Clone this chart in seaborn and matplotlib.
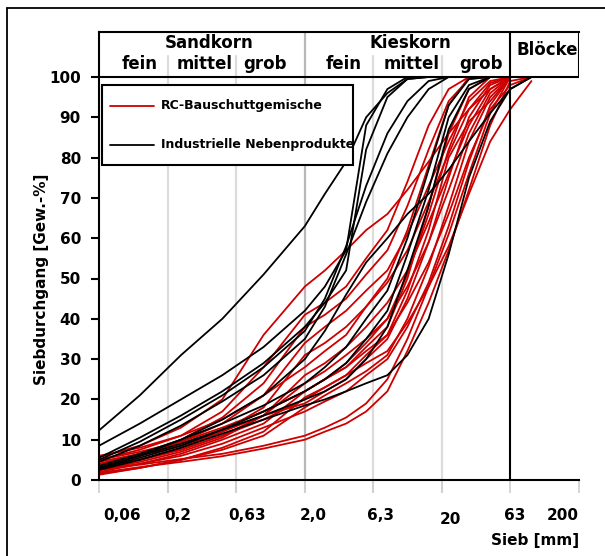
import matplotlib
matplotlib.use("Agg")
import matplotlib.pyplot as plt
import matplotlib.transforms as mtransforms
from matplotlib.lines import Line2D
from matplotlib.patches import Rectangle
from matplotlib.ticker import NullLocator, FixedLocator, NullFormatter
import numpy as np
import pandas as pd
import seaborn as sns

N = None
# sieve sizes [mm]
sieve = [0.063, 0.125, 0.25, 0.5, 1, 2, 2.8, 4, 5.6, 8, 11.2, 16, 22.4, 31.5, 45, 63, 90]

# passing [%] - RC-Bauschuttgemische
rc_curves = [
    [5.7, 8.5, 13, 20, 36, 48, 52, 57, 62, 66, 72, 79, 86, 92, 97, 100, N],
    [2.5, 3.8, 5.2, 6.5, 8.5, 11, 13, 15.5, 19, 25, 35, 48, 61, 76, 91, 100, N],
    [1.8, 3.2, 4.5, 5.9, 7.8, 10, 12, 14, 17, 22, 32, 44, 57, 72, 88, 99, 100],
    [5, 7.5, 11, 17, 28, 41, 44, 48, 55, 62, 74, 88, 97, 100, N, N, N],
    [4, 6.5, 10, 15.5, 24, 38, 41, 45, 51, 57, 68, 82, 94, 99.5, 100, N, N],
    [3.5, 6, 9.5, 14, 21, 34, 38, 42, 47, 52, 61, 73, 84, 94, 99, 100, N],
    [3, 5, 8, 12, 18, 31, 34, 38, 43, 49, 57, 69, 81, 92, 98.5, 100, N],
    [6, 8, 11, 15, 21, 28, 32, 36, 43, 50, 62, 78, 93, 100, N, N, N],
    [2.5, 4.5, 7, 10.5, 16, 26, 29, 33, 38, 44, 52, 64, 76, 88, 97, 100, N],
    [3, 5, 7.5, 11, 16, 24, 27, 31, 35, 40, 48, 59, 72, 86, 96, 100, N],
    [2, 4, 6.5, 10, 14, 22, 25, 28, 32, 36, 44, 54, 66, 80, 92, 98, 100],
    [4.5, 6.5, 9, 12.5, 17, 22, 25, 29, 34, 40, 51, 66, 82, 95, 100, N, N],
    [1.3, 3, 5, 8, 12, 20.5, 23, 26, 29, 32, 39, 48, 58, 71, 84, 92, 99],
    [4, 6, 8.5, 12, 16, 19, 22, 25, 30, 35, 45, 59, 75, 90, 98, 100, N],
    [2.5, 4, 6, 9, 13, 17, 19.5, 22, 26, 30, 38, 49, 63, 79, 93, 100, N],
    [5, 7, 9.5, 13, 17, 22, 25, 28, 33, 38, 50, 68, 86, 97, 100, N, N],
    [3, 5, 7.5, 11, 15, 20, 23, 26, 31, 36, 47, 62, 80, 89, 94, 100, N],
    [1.5, 3, 5, 7.5, 11, 18, 21, 24, 27, 31, 40, 53, 68, 84, 95, 100, N],
]

# passing [%] - Industrielle Nebenprodukte
ind_curves = [
    [12.3, 21, 31, 40, 51, 63, 71, 79, 90, 96, 99.5, 100, N, N, N, N, N],
    [8.5, 14, 20, 26, 33, 42, 48, 57, 88, 97, 100, N, N, N, N, N, N],
    [5.5, 10.5, 16, 22, 29, 38, 44, 52, 82, 95, 99.5, 100, N, N, N, N, N],
    [5, 9.5, 15, 21, 28, 37, 45, 58, 73, 86, 94, 99, 100, N, N, N, N],
    [4.5, 8.5, 13.5, 19.5, 26, 35, 43, 56, 69, 81, 90, 97, 100, N, N, N, N],
    [3, 6, 10, 15, 21, 30, 37, 46, 54, 60, 66, 71, 77, 84, 91, 97, 100],
    [3, 6, 9, 12.5, 16, 20, 22, 25, 30, 38, 52, 68, 87, 97, 100, N, N],
    [2.5, 5, 8, 11.5, 15, 18.5, 20, 22, 24, 26, 31, 40, 56, 75, 89, 97, 100],
    [3.5, 6.5, 10, 14, 18.5, 24, 28, 33, 40, 47, 60, 77, 93, 99.5, 100, N, N],
    [2.8, 5.5, 8.5, 12.5, 17, 22, 25, 29, 35, 42, 56, 72, 90, 98, 100, N, N],
]

groups = ["RC-Bauschuttgemische", "Industrielle Nebenprodukte"]
colors = {"RC-Bauschuttgemische": "#cc0000", "Industrielle Nebenprodukte": "#000000"}

x_ticks = [0.063, 0.2, 0.63, 2.0, 6.3, 20, 63, 200]
x_labels = ["0,06", "0,2", "0,63", "2,0", "6,3", "20", "63", "200"]
y_ticks = [0, 10, 20, 30, 40, 50, 60, 70, 80, 90, 100]

header_main = ["Sandkorn", "Kieskorn", "Blöcke"]
header_sub = ["fein", "mittel", "grob", "fein", "mittel", "grob"]

# ---------- build long table ----------
rows = []
for g, curves in zip(groups, [rc_curves, ind_curves]):
    for i, vals in enumerate(curves):
        for d, v in zip(sieve, vals):
            if v is not None:
                rows.append({"group": g, "curve": f"{g}_{i}", "sieve": d, "pass": v})
df = pd.DataFrame(rows)

sns.set_theme(style="white")
plt.rcParams["font.family"] = ["DejaVu Sans"]
plt.rcParams["font.weight"] = "bold"
plt.rcParams["text.color"] = "black"
plt.rcParams["axes.labelcolor"] = "black"
plt.rcParams["xtick.color"] = "black"
plt.rcParams["ytick.color"] = "black"

W, H = 605, 556
fig = plt.figure(figsize=(W / 100, H / 100), dpi=100)
fig.patch.set_facecolor("white")

x0, x1 = 99, 579          # pixel of 0.063 and 200
ybot, ytop = 480, 31.5    # pixel of 0% and top of header
ax = fig.add_axes([x0 / W, 1 - ybot / H, (x1 - x0) / W, (ybot - ytop) / H])
ymax = (ybot - ytop) / 4.03
ax.set_facecolor("white")

# grid lines
for xv in [0.2, 0.63, 6.3, 20]:
    ax.axvline(xv, ymin=0, ymax=105.2 / ymax, color="#dcdcdc", lw=1.6, zorder=0.5)
ax.axvline(2.0, color="#b8b8b8", lw=1.6, zorder=0.5)

sns.lineplot(data=df, x="sieve", y="pass", hue="group", units="curve",
             estimator=None, palette=colors, hue_order=groups, lw=1.3,
             legend=False, ax=ax, zorder=2)

ax.axvline(63, color="black", lw=1.5, zorder=3)
ax.axhline(100, color="black", lw=1.5, zorder=3)
ax.axvline(200, ymin=100 / ymax, ymax=1, color="black", lw=1.5, zorder=3)

ax.set_xscale("log")
ax.set_xlim(0.063, 200)
ax.set_ylim(0, ymax)
ax.set_xlabel("")
ax.set_ylabel("")

ax.spines["right"].set_visible(False)
for s in ["left", "bottom", "top"]:
    ax.spines[s].set_color("black")
    ax.spines[s].set_linewidth(1.5)

ax.xaxis.set_major_locator(FixedLocator(x_ticks))
ax.xaxis.set_minor_locator(NullLocator())
ax.xaxis.set_major_formatter(NullFormatter())
ax.xaxis.set_minor_formatter(NullFormatter())
ax.tick_params(axis="x", direction="out", length=9, width=1.5, color="#d0d0d0", bottom=True)
for i, t in enumerate(ax.xaxis.get_major_ticks()):
    if i in (0, 6, 7):
        t.tick1line.set_color("black")
        t.tick1line.set_markeredgewidth(1.2)

ax.set_yticks(y_ticks)
ax.set_yticklabels([str(v) for v in y_ticks])
ax.tick_params(axis="y", direction="out", length=6, width=1.5, color="black",
               left=True, pad=7, labelsize=11, labelcolor="black")
for lab in ax.get_yticklabels():
    lab.set_fontweight("bold")

# x tick labels (offset like the original)
offsets = [23, 10, 11, 8, 7, 9, 4, -16]
ylab_px = [516, 516, 516, 516, 516, 519, 516, 516]
for xv, lab, dx, yp in zip(x_ticks, x_labels, offsets, ylab_px):
    tr = mtransforms.blended_transform_factory(ax.transData, fig.transFigure) + \
        mtransforms.ScaledTranslation(dx / 100, 0, fig.dpi_scale_trans)
    ax.text(xv, 1 - yp / H, lab, transform=tr, ha="center", va="center",
            fontsize=11, fontweight="bold", color="black", clip_on=False)

fig.text(579 / W, 1 - 540 / H, "Sieb [mm]", ha="right", va="center",
         fontsize=11, fontweight="bold", color="black")
fig.text(42 / W, 1 - 279 / H, "Siebdurchgang [Gew.-%]", rotation=90,
         ha="center", va="center", fontsize=11, fontweight="bold", color="black")

# header texts
main_pos = [(209, 43), (410, 43), (547, 50)]
for t, (px, py) in zip(header_main, main_pos):
    fig.text(px / W, 1 - py / H, t, ha="center", va="center", fontsize=12,
             fontweight="bold", color="black")
sub_pos = [140, 204.6, 265, 344, 412, 481]
for t, px in zip(header_sub, sub_pos):
    fig.text(px / W, 1 - 64 / H, t, ha="center", va="center", fontsize=12,
             fontweight="bold", color="black")

# legend box
fig.patches.append(Rectangle((102 / W, 1 - 165 / H), 251 / W, 80 / H,
                             transform=fig.transFigure, facecolor="white",
                             edgecolor="black", lw=1.5, zorder=5))
for g, yp in zip(groups, [106, 145]):
    fig.add_artist(Line2D([110 / W, 154 / W], [1 - yp / H, 1 - yp / H],
                          color=colors[g], lw=1.3, zorder=6))
    fig.text(161 / W, 1 - yp / H, g, ha="left", va="center", fontsize=9,
             fontweight="bold", color="black", zorder=6)

# outer frame
fig.add_artist(Line2D([7 / W, 7 / W], [0, 1 - 7.5 / H], color="black", lw=1.3))
fig.add_artist(Line2D([7 / W, 1], [1 - 7.5 / H, 1 - 7.5 / H], color="black", lw=1.3))

fig.savefig("out.png", dpi=100, facecolor="white")
